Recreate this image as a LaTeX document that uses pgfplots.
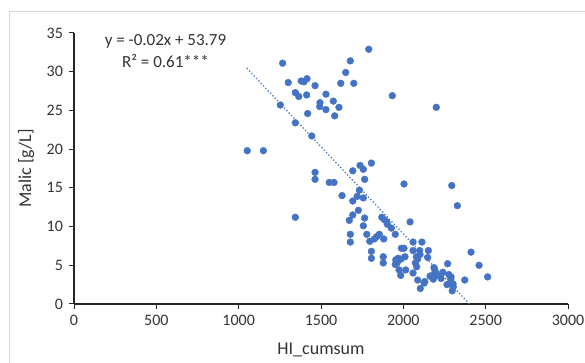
\documentclass[border=0pt]{standalone}
\usepackage{fontspec}
\setmainfont{Carlito}
\usepackage{pgfplots}
\pgfplotsset{compat=1.18}
\definecolor{xlblue}{RGB}{68,114,196}
\definecolor{frame}{RGB}{217,217,217}
\pgfplotstableread{
x y
1267 31.1
1790 32.9
1678 31.4
1650 29.9
1620 28.5
1699 28.5
1301 28.6
1380 28.8
1397 28.7
1415 29.1
1464 28.2
1344 27.3
1365 26.8
1413 27.0
1530 27.1
1494 26.0
1492 25.5
1575 26.2
1609 25.4
1530 25.1
1583 24.3
1253 25.7
1419 24.6
1344 23.4
1444 21.7
1052 19.8
1150 19.8
1933 26.9
2200 25.4
1806 18.2
1737 17.9
1757 17.4
1693 17.2
1464 17.0
1464 16.1
1550 15.7
1579 15.7
1765 16.1
2004 15.5
2294 15.3
1733 14.7
1628 14.0
1720 13.9
1757 13.7
1693 13.3
2328 12.7
1727 12.1
1344 11.2
1693 11.5
1672 10.8
1765 11.1
1869 11.2
1884 10.9
1899 10.6
1757 10.1
1903 10.3
1927 9.8
2041 10.6
1678 9.0
1678 8.0
1778 9.0
1796 8.1
1824 8.4
1838 8.7
1854 9.0
1881 8.4
1951 9.0
2059 8.0
2113 8.0
1806 6.8
1806 5.9
1878 6.1
1878 5.3
1988 7.2
2004 7.2
2059 6.9
2099 6.9
2152 6.9
1954 5.7
1968 5.9
1986 5.8
2010 6.1
1951 5.1
1962 5.3
1974 4.4
2014 4.4
1984 3.7
2079 6.1
2087 5.8
2101 6.4
2073 5.3
2081 4.8
2059 4.0
2148 6.0
2087 3.1
2103 2.0
2130 2.9
2126 2.7
2186 4.7
2191 4.4
2176 3.7
2162 3.6
2182 3.2
2209 3.7
2229 3.3
2240 4.1
2269 5.2
2276 3.8
2290 3.5
2288 3.2
2265 2.5
2302 2.6
2303 2.2
2297 1.7
2373 3.1
2411 6.7
2460 5.0
2512 3.5
}\malic
\begin{document}
\begin{tikzpicture}
\useasboundingbox (0pt,0pt) rectangle (585pt,363pt);
\draw[frame, line width=1pt] (9.5pt,0pt) -- (9.5pt,351pt) -- (585pt,351pt);
\begin{axis}[
  at={(74pt,59pt)}, anchor=south west,
  scale only axis, width=494pt, height=271pt,
  xmin=0, xmax=3000, ymin=0, ymax=35,
  xtick={0,500,...,3000}, ytick={0,5,...,35},
  axis lines=left,
  axis line style={-, line width=1.2pt, color=black!85},
  tick align=outside, major tick length=5pt,
  tick style={line width=1pt, color=black!85},
  /pgf/number format/assume math mode=true,
  /pgf/number format/1000 sep={},
  ticklabel style={font=\fontsize{16}{19}\selectfont, color=black!80},
  xticklabel style={yshift=-2.5pt},
  yticklabel style={xshift=-2.5pt},
  xlabel={HI\_cumsum}, ylabel={Malic [g/L]},
  label style={font=\fontsize{18}{21}\selectfont, color=black!80},
  xlabel style={at={(axis description cs:0.5,-0.1865)}, anchor=base},
  ylabel style={at={(axis description cs:-0.0870,0.5)}, anchor=base},
]
\addplot[only marks, mark=*, mark size=3.4pt, color=xlblue] table[x=x,y=y] {\malic};
\addplot[xlblue, line width=1.8pt, dash pattern=on 0pt off 3.4pt, line cap=round] coordinates {(1052,30.4) (2402,0)};
\end{axis}
\node[font=\fontsize{17}{20}\selectfont, color=black!80] at (165.5pt,322pt) {y = -0.02x + 53.79};
\node[font=\fontsize{17}{20}\selectfont, color=black!80] at (165.5pt,302pt) {R² = 0.61***};
\end{tikzpicture}
\end{document}
